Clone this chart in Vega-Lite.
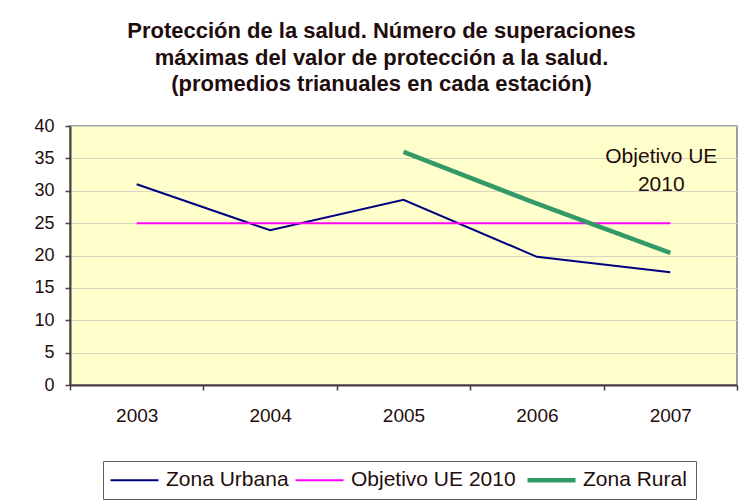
{
  "$schema": "https://vega.github.io/schema/vega-lite/v6.json",
  "width": 667,
  "height": 259,
  "autosize": {"type": "none"},
  "padding": {"left": 70, "top": 126, "right": 9, "bottom": 119},
  "background": "white",
  "config": {
    "font": "Liberation Sans",
    "view": {"fill": "#FFFFCC", "stroke": "#808080", "strokeWidth": 1.5},
    "axis": {
      "domainColor": "#4a3c3c", "domainWidth": 2, "tickColor": "#4a3c3c", "tickWidth": 1.5,
      "labelColor": "#1f0d0d", "labelFont": "Liberation Sans",
      "gridColor": "#d6d6c2", "gridWidth": 1, "tickSize": 5, "zindex": 1
    }
  },
  "title": {
    "text": ["Protección de la salud. Número de superaciones", "máximas del valor de protección a la salud.", "(promedios trianuales en cada estación)"],
    "font": "Liberation Sans", "fontSize": 22, "fontWeight": "bold", "color": "#1f0d0d",
    "lineHeight": 26.5, "anchor": "middle", "frame": "group", "dx": -22, "offset": 21
  },
  "datasets": {
    "series": [
      {"year": "2003", "serie": "Zona Urbana", "value": 31},
      {"year": "2004", "serie": "Zona Urbana", "value": 23.9},
      {"year": "2005", "serie": "Zona Urbana", "value": 28.6},
      {"year": "2006", "serie": "Zona Urbana", "value": 19.8},
      {"year": "2007", "serie": "Zona Urbana", "value": 17.4},
      {"year": "2003", "serie": "Objetivo UE 2010", "value": 25},
      {"year": "2004", "serie": "Objetivo UE 2010", "value": 25},
      {"year": "2005", "serie": "Objetivo UE 2010", "value": 25},
      {"year": "2006", "serie": "Objetivo UE 2010", "value": 25},
      {"year": "2007", "serie": "Objetivo UE 2010", "value": 25},
      {"year": "2005", "serie": "Zona Rural", "value": 36},
      {"year": "2006", "serie": "Zona Rural", "value": 28},
      {"year": "2007", "serie": "Zona Rural", "value": 20.4}
    ],
    "labels": [
      {"year": "2007", "value": 35.2, "label": ["Objetivo UE", "2010"]}
    ]
  },
  "encoding": {
    "x": {"field": "year", "type": "nominal",
          "scale": {"type": "band", "paddingInner": 0, "paddingOuter": 0},
          "axis": {"title": null, "labelAngle": 0, "tickBand": "extent", "labelPadding": 16, "labelFontSize": 19, "grid": false}},
    "y": {"field": "value", "type": "quantitative",
          "scale": {"domain": [0, 40], "nice": false, "zero": true},
          "axis": {"title": null, "values": [0, 5, 10, 15, 20, 25, 30, 35, 40], "grid": true, "labelPadding": 11, "labelFontSize": 18, "labelOverlap": false}}
  },
  "layer": [
    {
      "data": {"name": "series"},
      "mark": {"type": "line", "strokeCap": "butt"},
      "encoding": {
        "color": {"field": "serie", "type": "nominal",
                  "scale": {"domain": ["Zona Urbana", "Objetivo UE 2010", "Zona Rural"], "range": ["#000080", "#FF00FF", "#339966"]},
                  "legend": {"title": null, "orient": "none", "legendX": 33, "legendY": 335, "direction": "horizontal",
                             "symbolType": "M-2,0H2", "symbolSize": 576, "symbolOffset": 12.5, "labelFontSize": 21, "labelColor": "#1f0d0d",
                             "strokeColor": "#6b5a5a", "padding": 8.5, "columnPadding": 2, "labelOffset": 21, "labelLimit": 300,
                             "encode": {"symbols": {"update": {"strokeWidth": {"signal": "datum.value === 'Zona Rural' ? 4.5 : 2"}}}}}},
        "strokeWidth": {"condition": {"test": "datum.serie === 'Zona Rural'", "value": 4.5}, "value": 2},
        "order": {"field": "year"}
      }
    },
    {
      "data": {"name": "labels"},
      "mark": {"type": "text", "fontSize": 21, "color": "#1f0d0d", "align": "center", "baseline": "middle", "dx": -9, "lineHeight": 28},
      "encoding": {
        "text": {"field": "label"}
      }
    }
  ]
}
